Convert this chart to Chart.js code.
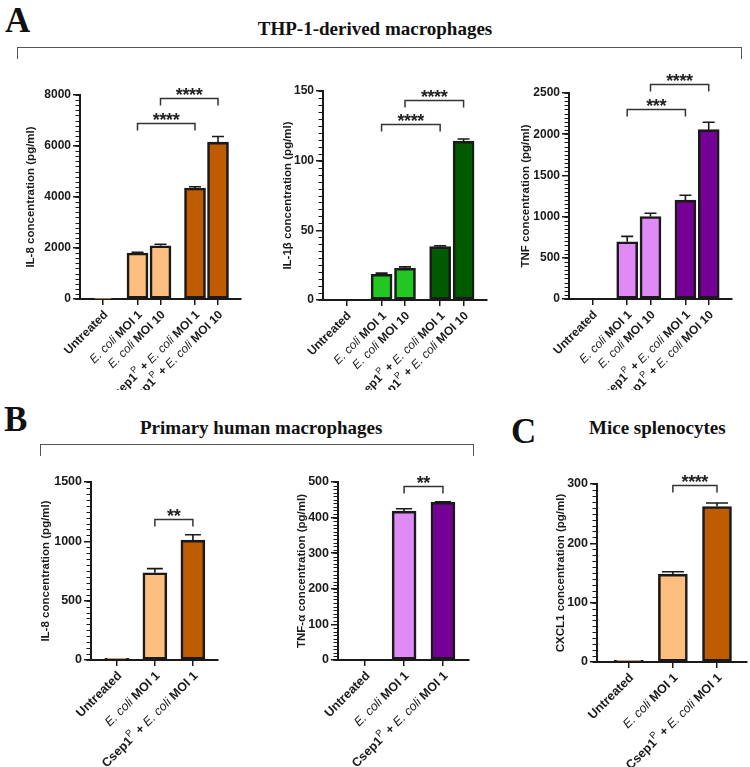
<!DOCTYPE html>
<html>
<head>
<meta charset="utf-8">
<script src="https://cdn.jsdelivr.net/npm/chart.js@4.4.1/dist/chart.umd.min.js"></script>
<style>
  html, body { margin: 0; padding: 0; background: #fff; }
  #fig { position: relative; width: 750px; height: 767px; background: #fff; overflow: hidden; }
  .letter { position: absolute; font-family: "Liberation Serif", serif; font-weight: bold; font-size: 35px; line-height: 1; color: #111; }
  .title { position: absolute; font-family: "Liberation Serif", serif; font-weight: bold; font-size: 19px; line-height: 1; color: #111; text-align: center; white-space: nowrap; }
  .bracket { position: absolute; border: 1px solid #555; border-bottom: none; box-sizing: border-box; }
  canvas { position: absolute; }
</style>
</head>
<body>
<div id="fig">
  <div class="letter" style="left:5px;top:3px">A</div>
  <div class="title" style="left:0;width:750px;top:19px">THP-1-derived macrophages</div>
  <div class="bracket" style="left:17px;top:47px;width:725px;height:12px"></div>

  <div class="letter" style="left:4px;top:402px">B</div>
  <div class="title" style="left:140px;width:240px;top:418px">Primary human macrophages</div>
  <div class="bracket" style="left:40px;top:444px;width:434px;height:12px"></div>

  <div class="letter" style="left:511px;top:414px">C</div>
  <div class="title" style="left:589px;width:135px;top:418px">Mice splenocytes</div>
</div>
<script>
// groups on the x axis
const groupsThp = ['Untreated', 'E. coli MOI 1', 'E. coli MOI 10', 'Csep1^P + E. coli MOI 1', 'Csep1^P + E. coli MOI 10'];
const groupsOne = ['Untreated', 'E. coli MOI 1', 'Csep1^P + E. coli MOI 1'];
const slotsThp = [0, 1.5, 2.5, 4, 5];
const slotsOne = [0, 1, 2];

// THP-1-derived macrophages (mean, SEM)
const il8Thp = [20, 1800, 2090, 4350, 6150];
const il8ThpErr = [0, 30, 60, 50, 220];
const il1bThp = [0, 18.5, 22.8, 38.3, 114];
const il1bThpErr = [0, 0.8, 1.0, 0.6, 1.6];
const tnfThp = [0, 695, 1000, 1200, 2055];
const tnfThpErr = [0, 65, 40, 60, 90];

// primary human macrophages
const il8Prim = [15, 735, 1010];
const il8PrimErr = [0, 35, 45];
const tnfPrim = [0, 418, 443];
const tnfPrimErr = [0, 7, 1.5];

// mice splenocytes
const cxclSpl = [3, 148, 262];
const cxclSplErr = [0, 4, 6];

// significance: [from, to, height (data units), stars]
const sigIl8Thp = [[1, 3, 6900, '****'], [2, 4, 7880, '****']];
const sigIl1bThp = [[1, 3, 126, '****'], [2, 4, 143.8, '****']];
const sigTnfThp = [[1, 3, 2310, '***'], [2, 4, 2614, '****']];
const sigIl8Prim = [[1, 2, 1184, '**']];
const sigTnfPrim = [[1, 2, 488, '**']];
const sigCxclSpl = [[1, 2, 297.6, '****']];

const INK = '#1a1a1a';
const SANS = '"Liberation Sans", Arial, sans-serif';
const orange = ['#fdbe7f', '#fdbe7f', '#fdbe7f', '#bf5b00', '#bf5b00'];
const green = ['#22c722', '#22c722', '#22c722', '#005a00', '#005a00'];
const purple = ['#df8af5', '#df8af5', '#df8af5', '#740096', '#740096'];

const minorTicks = {
  id: 'minorTicks',
  afterDraw(chart, args, o) {
    const { ctx, chartArea, scales: { y } } = chart;
    ctx.save();
    ctx.strokeStyle = INK;
    ctx.lineWidth = 1;
    for (let v = 0; v <= y.max + 1e-9; v += o.step) {
      const py = Math.round(y.getPixelForValue(v)) + 0.5;
      ctx.beginPath();
      ctx.moveTo(chartArea.left - 4.5, py);
      ctx.lineTo(chartArea.left, py);
      ctx.stroke();
    }
    ctx.restore();
  }
};

const errorBars = {
  id: 'errorBars',
  afterDatasetsDraw(chart, args, o) {
    const { ctx, scales: { y } } = chart;
    ctx.save();
    ctx.strokeStyle = INK;
    ctx.lineWidth = 1.6;
    chart.data.datasets.forEach((ds, di) => {
      chart.getDatasetMeta(di).data.forEach((bar, i) => {
        const e = ds.errors[i];
        if (!e) return;
        const top = y.getPixelForValue(ds.data[i].y + e);
        ctx.beginPath();
        ctx.moveTo(bar.x, bar.y);
        ctx.lineTo(bar.x, top);
        ctx.moveTo(bar.x - o.cap / 2, top);
        ctx.lineTo(bar.x + o.cap / 2, top);
        ctx.stroke();
      });
    });
    ctx.restore();
  }
};

const sigBrackets = {
  id: 'sigBrackets',
  afterDraw(chart, args, o) {
    const { ctx, scales: { x, y } } = chart;
    const slots = o.slots;
    ctx.save();
    ctx.strokeStyle = '#333';
    ctx.fillStyle = '#222';
    ctx.lineWidth = 1.5;
    ctx.font = 'bold 18px ' + SANS;
    ctx.textAlign = 'center';
    ctx.textBaseline = 'alphabetic';
    o.items.forEach(([a, b, h, txt]) => {
      const x1 = x.getPixelForValue(slots[a]);
      const x2 = x.getPixelForValue(slots[b]);
      const py = Math.round(y.getPixelForValue(h)) + 0.5;
      ctx.beginPath();
      ctx.moveTo(x1, py + 7);
      ctx.lineTo(x1, py);
      ctx.lineTo(x2, py);
      ctx.lineTo(x2, py + 7);
      ctx.stroke();
      const mid = (x1 + x2) / 2;
      const gap = 6.6;
      for (let k = 0; k < txt.length; k++) {
        ctx.fillText('*', mid + (k - (txt.length - 1) / 2) * gap, py + 2);
      }
    });
    ctx.restore();
  }
};

function splitLabel(s) {
  return s.split(/(E\. coli |\^P)/).filter(t => t.length).map(t => {
    if (t === '^P') return { t: 'P', font: 'normal', sup: true };
    if (t.startsWith('E. coli')) return { t, font: 'italic normal', sup: false };
    return { t, font: 'bold', sup: false };
  });
}

const xLabels = {
  id: 'xLabels',
  afterDraw(chart, args, o) {
    const { ctx, chartArea, scales: { x } } = chart;
    ctx.save();
    ctx.fillStyle = INK;
    ctx.textBaseline = 'middle';
    ctx.textAlign = 'left';
    o.labels.forEach((lab, i) => {
      const parts = splitLabel(lab);
      const fontOf = p => p.sup ? `normal ${o.size - 3}px ${SANS}` : `${p.font} ${o.size}px ${SANS}`;
      let total = 0;
      parts.forEach(p => { ctx.font = fontOf(p); p.w = ctx.measureText(p.t).width; total += p.w; });
      ctx.save();
      ctx.translate(x.getPixelForValue(o.slots[i]) + o.dx, chartArea.bottom + o.dy);
      ctx.rotate(-Math.PI / 4);
      let cx = -total;
      parts.forEach(p => {
        ctx.font = fontOf(p);
        ctx.fillText(p.t, cx, p.sup ? -o.size * 0.4 : 0);
        cx += p.w;
      });
      ctx.restore();
    });
    ctx.restore();
  }
};

function barChart(box, area, c) {
  const canvas = document.createElement('canvas');
  canvas.width = box.w;
  canvas.height = box.h;
  canvas.style.left = box.x + 'px';
  canvas.style.top = box.y + 'px';
  document.getElementById('fig').appendChild(canvas);

  return new Chart(canvas.getContext('2d'), {
    type: 'bar',
    data: {
      datasets: [{
        data: c.values.map((v, i) => ({ x: c.slots[i], y: v })),
        errors: c.errors,
        backgroundColor: c.colors,
        borderColor: INK,
        borderWidth: 2.6,
        borderSkipped: false,
        barThickness: c.bar
      }]
    },
    options: {
      responsive: false,
      animation: false,
      events: [],
      layout: {
        padding: { left: 0, top: area.top - box.y, right: box.x + box.w - area.right, bottom: 0 }
      },
      scales: {
        x: {
          type: 'linear',
          min: c.xMin,
          max: c.xMax,
          offset: false,
          afterBuildTicks: s => { s.ticks = c.slots.map(v => ({ value: v })); },
          afterFit: s => { s.height = box.y + box.h - area.bottom; },
          ticks: { display: false },
          grid: { display: true, offset: false, drawOnChartArea: false, drawTicks: true, tickLength: 6, color: INK, lineWidth: 1.5 },
          border: { display: true, color: INK, width: 2 }
        },
        y: {
          min: 0,
          max: c.yMax,
          afterFit: s => { s.width = area.left - box.x; },
          ticks: { stepSize: c.yStep, color: INK, padding: 2, callback: v => String(v), font: { family: SANS, weight: 'bold', size: c.tickSize } },
          grid: { display: true, drawOnChartArea: false, drawTicks: true, tickLength: 7, color: INK, lineWidth: 1.5 },
          border: { display: true, color: INK, width: 2 },
          title: { display: true, text: c.yTitle, color: INK, padding: 0, font: { family: SANS, weight: 'bold', size: c.titleSize } }
        }
      },
      plugins: {
        legend: { display: false },
        tooltip: { enabled: false },
        minorTicks: { step: c.yMinor },
        errorBars: { cap: c.cap },
        sigBrackets: { items: c.sig, slots: c.slots },
        xLabels: { labels: c.labels, slots: c.slots, size: c.labelSize, dx: 3, dy: 14 }
      }
    },
    plugins: [minorTicks, errorBars, sigBrackets, xLabels]
  });
}

const thp = { labels: groupsThp, slots: slotsThp, xMin: -1, xMax: 6, bar: 21, cap: 12, tickSize: 12, titleSize: 11.5, labelSize: 12 };
const one = { labels: groupsOne, slots: slotsOne, bar: 24, cap: 16, tickSize: 12.5, titleSize: 11.5, labelSize: 12.5 };

barChart({ x: 24, y: 60, w: 226, h: 330 }, { left: 80, right: 241, top: 95, bottom: 299 },
  { ...thp, values: il8Thp, errors: il8ThpErr, colors: orange, yMax: 8000, yStep: 2000, yMinor: 200, yTitle: 'IL-8 concentration (pg/ml)', sig: sigIl8Thp });
barChart({ x: 281, y: 60, w: 214, h: 330 }, { left: 323, right: 487, top: 91, bottom: 300 },
  { ...thp, values: il1bThp, errors: il1bThpErr, colors: green, yMax: 150, yStep: 50, yMinor: 5, yTitle: 'IL-1β concentration (pg/ml)', sig: sigIl1bThp });
barChart({ x: 519, y: 60, w: 231, h: 330 }, { left: 569, right: 732, top: 93, bottom: 299 },
  { ...thp, values: tnfThp, errors: tnfThpErr, colors: purple, yMax: 2500, yStep: 500, yMinor: 50, yTitle: 'TNF concentration (pg/ml)', sig: sigTnfThp });

barChart({ x: 39, y: 460, w: 211, h: 307 }, { left: 91, right: 218, top: 482, bottom: 660 },
  { ...one, xMin: -0.68, xMax: 2.66, values: il8Prim, errors: il8PrimErr, colors: [orange[0], orange[0], orange[3]], yMax: 1500, yStep: 500, yMinor: 50, yTitle: 'IL-8 concentration (pg/ml)', sig: sigIl8Prim });
barChart({ x: 295, y: 460, w: 185, h: 307 }, { left: 338, right: 469, top: 482, bottom: 660 },
  { ...one, xMin: -0.7, xMax: 2.67, values: tnfPrim, errors: tnfPrimErr, colors: [purple[0], purple[0], purple[3]], yMax: 500, yStep: 100, yMinor: 10, yTitle: 'TNF-α concentration (pg/ml)', sig: sigTnfPrim });
barChart({ x: 554, y: 460, w: 196, h: 307 }, { left: 597, right: 747, top: 484, bottom: 662 },
  { ...one, bar: 29, cap: 22, xMin: -0.72, xMax: 2.68, values: cxclSpl, errors: cxclSplErr, colors: [orange[0], orange[0], orange[3]], yMax: 300, yStep: 100, yMinor: 10, yTitle: 'CXCL1 concentration (pg/ml)', sig: sigCxclSpl });
</script>
</body>
</html>
